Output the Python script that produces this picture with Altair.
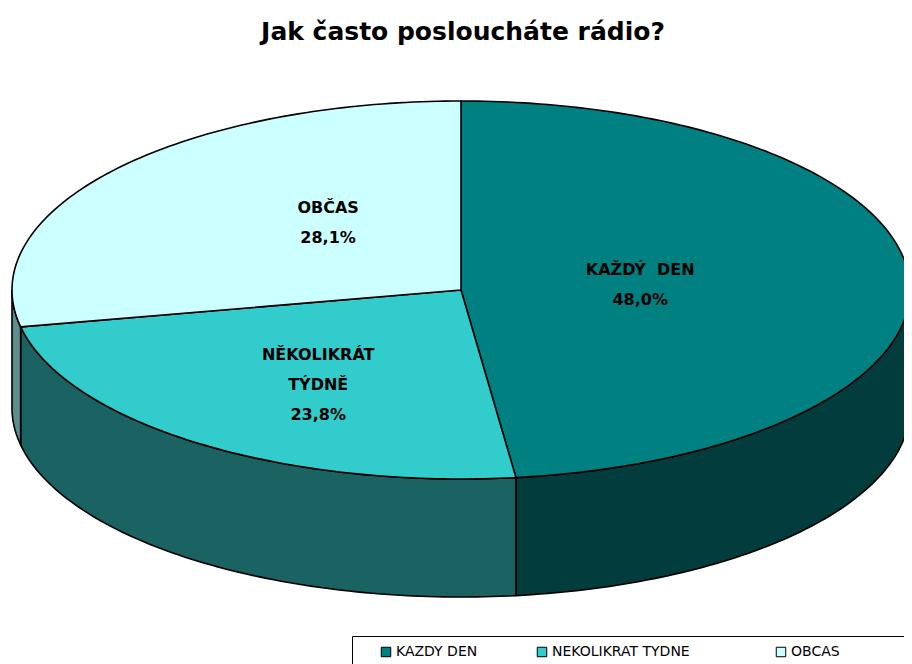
import numpy as np
import pandas as pd
import altair as alt

# ---- data ----
slice_labels = ["KAŽDÝ \u00a0DEN", "NĚKOLIKRÁT\nTÝDNĚ", "OBČAS"]
legend_labels = ["KAZDY DEN", "NEKOLIKRAT TYDNE", "OBCAS"]
values = [48.0, 23.8, 28.1]
title_text = "Jak často posloucháte rádio?"

# ---- style ----
top_colors = ["#008080", "#33CCCC", "#CCFFFF"]
side_colors = ["#033c3c", "#1b6262", "#5f8d8d"]
CX, CY, A, B, DEPTH = 461.0, 290.0, 449.0, 189.0, 118.0
LH = 30
label_pos = [(0.399, -0.026), (-0.318, 0.503), (-0.296, -0.354)]  # label block centres (fraction of a, b)

total = sum(values)
fr = np.cumsum([0] + [v / total for v in values])
angles = fr * 2 * np.pi  # clockwise from 12 o'clock


def pt(t, dy=0.0):
    return CX + A * np.sin(t), CY - B * np.cos(t) + dy


def arc(t0, t1, dy=0.0):
    n = max(2, int(abs(t1 - t0) / (2 * np.pi) * 360))
    ts = np.linspace(t0, t1, n)
    return [pt(t, dy) for t in ts]


polys = []
# sides (front half visible: pi/2 .. 3pi/2)
for i in range(len(values)):
    s0 = max(angles[i], np.pi / 2)
    s1 = min(angles[i + 1], 3 * np.pi / 2)
    if s1 > s0:
        pts = arc(s0, s1) + arc(s1, s0, DEPTH)
        pts.append(pts[0])
        polys.append((side_colors[i], pts))
# top faces
for i in range(len(values)):
    pts = [(CX, CY)] + arc(angles[i], angles[i + 1]) + [(CX, CY)]
    polys.append((top_colors[i], pts))

xs = alt.Scale(domain=[8, 904], nice=False, zero=False)
ys = alt.Scale(domain=[8, 664], reverse=True, nice=False, zero=False)

layers = []
for color, pts in polys:
    d = pd.DataFrame({"x": [p[0] for p in pts], "y": [p[1] for p in pts],
                      "o": list(range(len(pts)))})
    layers.append(
        alt.Chart(d).mark_line(fill=color, stroke="black", strokeWidth=1.6,
                               strokeJoin="round")
        .encode(x=alt.X("x:Q", scale=xs, axis=None),
                y=alt.Y("y:Q", scale=ys, axis=None),
                order="o:Q")
    )

# slice labels (y = first line position)
lab_rows = []
for i, (name, v) in enumerate(zip(slice_labels, values)):
    fx, fy = label_pos[i]
    txt = name + "\n" + f"{v:.1f}".replace(".", ",") + "%"
    n = txt.count("\n") + 1
    lab_rows.append({"x": CX + fx * A, "y": CY + fy * B - (n - 1) * LH / 2, "t": txt})
layers.append(
    alt.Chart(pd.DataFrame(lab_rows)).mark_text(
        lineBreak="\n", font="DejaVu Sans", fontWeight="bold", fontSize=16,
        lineHeight=LH, align="center", baseline="middle", color="black")
    .encode(x=alt.X("x:Q", scale=xs, axis=None), y=alt.Y("y:Q", scale=ys, axis=None),
            text="t:N")
)

# title
layers.append(
    alt.Chart(pd.DataFrame({"x": [CX + 2], "y": [32], "t": [title_text]})).mark_text(
        font="DejaVu Sans", fontWeight="bold", fontSize=25, align="center",
        baseline="middle", color="black")
    .encode(x=alt.X("x:Q", scale=xs, axis=None), y=alt.Y("y:Q", scale=ys, axis=None),
            text="t:N")
)

# legend (invisible carrier marks); trailing non-breaking spaces + zero-width space
# widen the legend entries (layout spacing only)
NB = "\u00a0"
ZW = "\u200b"
label_expr = ("indexof(datum.label, 'OBCAS') >= 0 ? datum.label + '" + NB * 60 + ZW + "' : "
              "(indexof(datum.label, 'NEKOLIKRAT') >= 0 ? datum.label + '" + NB * 6 + ZW + "' : datum.label)")
leg_df = pd.DataFrame({"cat": legend_labels, "x": [CX] * 3, "y": [CY] * 3})
layers.append(
    alt.Chart(leg_df).mark_square(size=1, opacity=0)
    .encode(x=alt.X("x:Q", scale=xs, axis=None), y=alt.Y("y:Q", scale=ys, axis=None),
            color=alt.Color("cat:N",
                            scale=alt.Scale(domain=legend_labels, range=top_colors),
                            legend=alt.Legend(
                                orient="none", legendX=344, legendY=628,
                                direction="horizontal", columns=3, title=None,
                                strokeColor="black", padding=9, fillColor="white",
                                symbolType="square", symbolSize=90,
                                symbolStrokeColor="black", symbolStrokeWidth=1,
                                symbolOpacity=1, symbolOffset=18,
                                labelFont="DejaVu Sans", labelFontSize=14,
                                labelColor="black", labelOffset=3,
                                labelLimit=800,
                                columnPadding=39,
                                labelExpr=label_expr)))
)

chart = alt.layer(*layers).properties(
    width=896, height=656, padding=0,
    autosize=alt.AutoSizeParams(type="none")
).configure_view(stroke=None)

chart.save("out.html", embed_options={"renderer": "svg", "actions": False})
